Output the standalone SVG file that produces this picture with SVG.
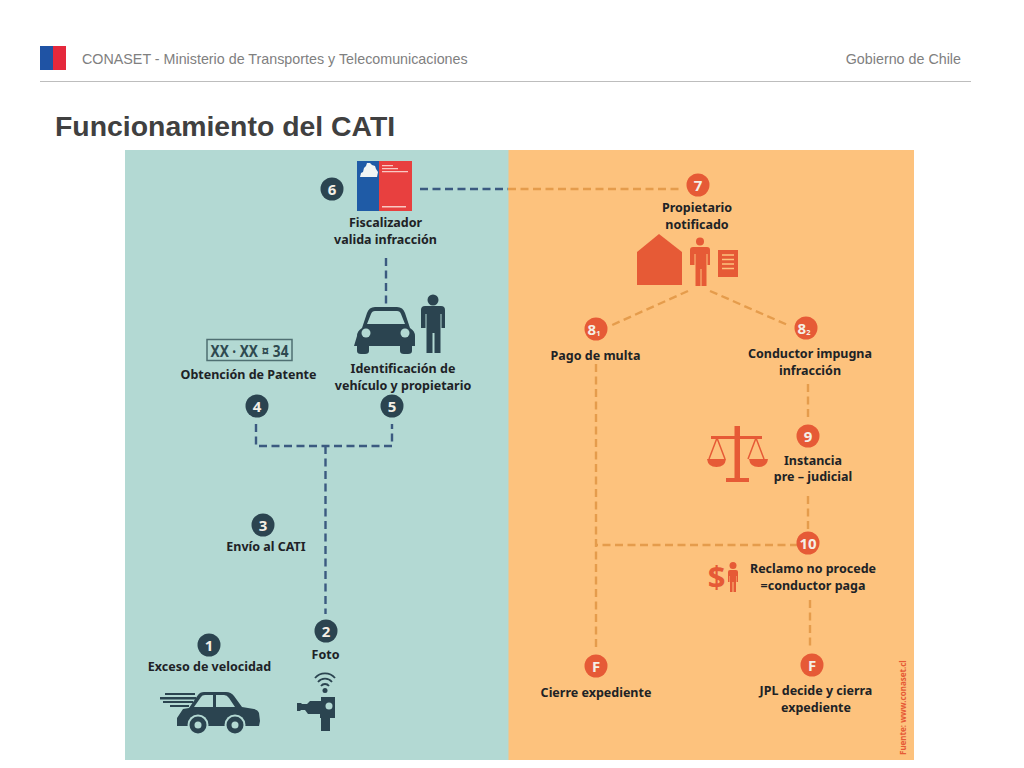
<svg xmlns="http://www.w3.org/2000/svg" width="1024" height="768" viewBox="0 0 1024 768">
<style>
.h{font-family:"Liberation Sans",Arial,sans-serif;font-size:14.3px;fill:#808080}
.t{font-family:"Noto Sans",sans-serif;font-weight:700;font-size:12.5px;text-anchor:middle;fill:#202226}
.n{font-family:"Noto Sans",sans-serif;font-weight:700;font-size:15px;text-anchor:middle;dominant-baseline:central;fill:#f4efe6}
.b{fill:#2b4450}.o{fill:#e65a36}
.dk{fill:none;stroke:#3b5a80;stroke-width:2.4;stroke-dasharray:8 4.500}
.dy{fill:none;stroke:#e59c4c;stroke-width:2.400;stroke-dasharray:8 4.500}
</style>
<rect width="1024" height="768" fill="#fff"/>
<g id="header">
<rect x="40" y="46" width="13" height="24" fill="#1f53a4"/><rect x="53" y="46" width="13" height="24" fill="#e5283c"/>
<text class="h" x="82" y="63.500">CONASET - Ministerio de Transportes y Telecomunicaciones</text>
<text class="h" x="961" y="63.500" text-anchor="end">Gobierno de Chile</text>
<rect x="40" y="81" width="931" height="1" fill="#bdbdbd"/>
<text x="55" y="136" font-family="Liberation Sans,Arial,sans-serif" font-weight="700" font-size="28.400px" fill="#404040">Funcionamiento del CATI</text>
</g>
<rect x="125" y="150" width="384" height="610" fill="#b3d9d3"/>
<rect x="508.500" y="150" width="405.500" height="610" fill="#fdc27d"/>
<g id="connectors">
<path class="dk" d="M420 189H508M386 258V306M256 424V446H392V424M325.500 446V614"/>
<path class="dy" d="M508 189H682M688 291L610 326M710 291L790 326M596 364V650M808 384V420M808 496V530M798 545H596M810 600V650"/>
</g>
<g id="n1"><circle class="b" cx="209" cy="645" r="11.500"/><text class="n" x="209" y="645">1</text><text class="t" x="209.500" y="671">Exceso de velocidad</text>
<path class="b" d="M165 693h30v2h-30zM160 697h36v2.500h-36zM163 701h30v2h-30zM170 705h19v2h-19z"/>
<path class="b" d="M177 726v-8l6-9 6-1 9-13q2-3 6-3h22q5 0 8 4l8 11 12 2q4 1 5 4l1 8-1 5z"/>
<path d="M194 707l7-10q1-2 4-2h8v12zM216 695h8q3 0 5 3l6 9h-19z" fill="#b3d9d3"/>
<circle cx="198" cy="725" r="10.500" fill="#b3d9d3"/><circle class="b" cx="198" cy="725" r="8.500"/><circle cx="198" cy="725" r="3.500" fill="#b3d9d3"/><circle cx="235" cy="725" r="10.500" fill="#b3d9d3"/><circle class="b" cx="235" cy="725" r="8.500"/><circle cx="235" cy="725" r="3.500" fill="#b3d9d3"/></g>
<g id="n2"><circle class="b" cx="326" cy="631" r="11.500"/><text class="n" x="326" y="631">2</text><text class="t" x="325.500" y="659">Foto</text>
<path d="M315 678a13 13 0 0 1 20 0M318 682a9 9 0 0 1 14 0M321 686a5 5 0 0 1 8 0" fill="none" stroke="#2b4450" stroke-width="1.800"/><circle class="b" cx="325" cy="690.500" r="2.500"/>
<path class="b" d="M297 703h4l1 1h5l3-3h11v-4h14v21h-5v13h-9v-13h-1v-4h-12l-3-4h-4l-1 1h-3z"/><circle cx="329" cy="706" r="3.500" fill="#b3d9d3"/></g>
<g id="n3"><circle class="b" cx="263" cy="525" r="11.500"/><text class="n" x="263" y="525">3</text><text class="t" x="266" y="551">Envío al CATI</text></g>
<g id="n4"><rect x="207" y="339.500" width="85" height="21" fill="none" stroke="#4f6f72" stroke-width="1.500"/>
<text x="249.500" y="356.500" font-family="Noto Sans,sans-serif" font-weight="700" font-size="15.500px" text-anchor="middle" textLength="78" lengthAdjust="spacingAndGlyphs" fill="#2f4a50">XX · XX ¤ 34</text>
<text class="t" x="248.500" y="379">Obtención de Patente</text><circle class="b" cx="257" cy="406" r="11.500"/><text class="n" x="257" y="406">4</text></g>
<g id="n5"><path class="b" d="M357 336q0-5 5-8l5-15q2-6 8-6h22q6 0 8 6l5 15q5 3 5 8v10h-1l-2 0v5q0 3-4 3h-4q-4 0-4-3v-5h-31v5q0 3-4 3h-4q-4 0-4-3v-5h-3z"/>
<path d="M367 324l4-10q1-3 4-3h22q3 0 4 3l4 10z" fill="#b3d9d3"/><circle cx="366" cy="333" r="4.500" fill="#b3d9d3"/><circle cx="405" cy="333" r="4.500" fill="#b3d9d3"/>
<circle class="b" cx="433" cy="300" r="5.500"/><path class="b" d="M425 306h16q4 0 4 4v18h-3.500v-14h-1v39h-6v-20h-2v20h-6v-39h-1v14h-4.500v-18q0-4 4-4z"/>
<text class="t" x="403" y="373">Identificación de</text><text class="t" x="403" y="390">vehículo y propietario</text><circle class="b" cx="392" cy="406" r="11.500"/><text class="n" x="392" y="406">5</text></g>
<g id="n6"><circle class="b" cx="332" cy="189" r="11.500"/><text class="n" x="332" y="189">6</text>
<rect x="357" y="161" width="23" height="50" fill="#1f5ba6"/><rect x="379" y="161" width="33" height="50" fill="#e8403f"/><path d="M360 177l1-4 2-1 1-4 2-2 1-3h3l2 2 3 1 1 3 2 3-1 5z" fill="#f1f5f4"/>
<path d="M382 165h11v1.200h-11zM382 168h16v1.200h-16zM382 171h26v1.200h-26zM382 206h24v1.500h-24z" fill="#f9c9c4"/>
<text class="t" x="385.500" y="227">Fiscalizador</text><text class="t" x="385.500" y="244">valida infracción</text></g>
<g id="n7"><circle class="o" cx="698" cy="185" r="11.500"/><text class="n" x="698" y="185">7</text><text class="t" x="697" y="212">Propietario</text><text class="t" x="697" y="229">notificado</text>
<path class="o" d="M637 285v-33l22-18 23 18v33z"/><circle class="o" cx="700" cy="241.500" r="4"/><path class="o" d="M693 247h14q3 0 3 3v15h-2.500v-11h-1v32h-5v-17h-1v17h-5v-32h-1v11h-4.500v-15q0-3 3-3z"/>
<rect class="o" x="718" y="250" width="20" height="27"/><path d="M722 255h12M722 259.500h12M722 264h12M722 268.500h12" stroke="#fdc27d" stroke-width="1.300"/></g>
<g id="n8a"><circle class="o" cx="596" cy="329" r="11.500"/><text class="n" x="594" y="329">8<tspan font-size="7.500px" dy="4">1</tspan></text><text class="t" x="595.500" y="360">Pago de multa</text></g>
<g id="n8b"><circle class="o" cx="806" cy="328" r="11.500"/><text class="n" x="804" y="328">8<tspan font-size="7.500px" dy="4">2</tspan></text><text class="t" x="810" y="358">Conductor impugna</text><text class="t" x="810" y="375">infracción</text></g>
<g id="n9"><circle class="o" cx="808" cy="436" r="11.500"/><text class="n" x="808" y="436">9</text><text class="t" x="813" y="465">Instancia</text><text class="t" x="813" y="481">pre – judicial</text>
<path class="o" d="M734.500 426h5.500v10h22v3h-22v39h9v4h-23v-4h8.500v-39h-23.500v-3h23.500z"/>
<path d="M717 438l-8 21M717 438l8 21M756 438l-8 21M756 438l8 21" stroke="#e65a36" stroke-width="1.500" fill="none"/>
<path class="o" d="M707 459h19q-1 8-9.500 8T707 459zM749 459h19q-1 8-9.500 8t-9.500-8z"/></g>
<g id="n10"><circle class="o" cx="808" cy="543" r="11.500"/><text class="n" x="808" y="543">10</text><text class="t" x="813" y="573">Reclamo no procede</text><text class="t" x="813" y="590">=conductor paga</text>
<text x="716.500" y="588" font-family="Noto Sans,sans-serif" font-weight="700" font-size="31px" text-anchor="middle" fill="#e65a36">$</text>
<circle class="o" cx="733" cy="565.500" r="3.500"/><path class="o" d="M730 570h6q2 0 2 2v10h-1.500v-6h-.5v16h-2.500v-10h-1v10h-2.500v-16h-.5v6h-1.500v-10q0-2 2-2z"/></g>
<g id="nF1"><circle class="o" cx="596" cy="666" r="11.500"/><text class="n" x="596" y="666">F</text><text class="t" x="596" y="697">Cierre expediente</text></g>
<g id="nF2"><circle class="o" cx="812" cy="665" r="11.500"/><text class="n" x="812" y="665">F</text><text class="t" x="816" y="695">JPL decide y cierra</text><text class="t" x="816" y="712">expediente</text></g>
<text transform="translate(906 755) rotate(-90)" font-family="Noto Sans,sans-serif" font-weight="700" font-size="8px" fill="#e65a36">Fuente: www.conaset.cl</text>
</svg>
